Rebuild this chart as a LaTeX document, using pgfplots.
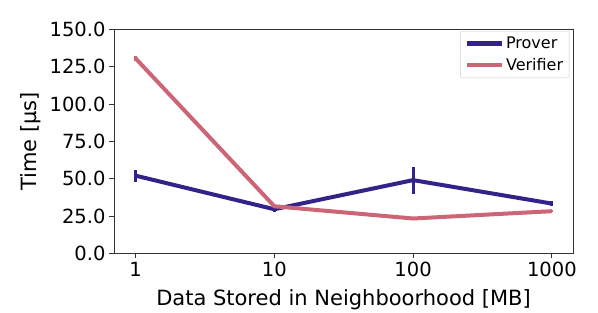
\documentclass[border=0pt]{standalone}
\usepackage{fontspec}
\setmainfont{DejaVu Sans}
\usepackage{pgfplots}
\pgfplotsset{compat=1.18}
\definecolor{prover}{HTML}{332288}
\definecolor{verifier}{HTML}{CC6677}
\begin{document}
\begin{tikzpicture}
\begin{semilogxaxis}[
  scale only axis,
  width=459pt, height=224pt,
  xmin=0.70, xmax=1420,
  ymin=0, ymax=150,
  xtick={1,10,100,1000},
  xticklabels={1,10,100,1000},
  xminorticks=false,
  ytick={0,25,50,75,100,125,150},
  yticklabel style={/pgf/number format/.cd, fixed, fixed zerofill, precision=1},
  /pgf/number format/assume math mode=true,
  tick pos=left,
  tick align=outside,
  major tick length=5pt,
  tick style={line width=0.8pt, black!80},
  axis line style={line width=0.8pt, black!80},
  ticklabel style={font=\fontsize{19.5}{22}\selectfont},
  label style={font=\fontsize{21}{24}\selectfont},
  xlabel={Data Stored in Neighboorhood [MB]},
  ylabel={Time [\textmu s]},
  xlabel style={at={([yshift=-51.7pt]axis description cs:0.5,0)}, anchor=base},
  ylabel style={at={([xshift=-77pt]axis description cs:0,0.5)}, anchor=base},
  legend style={at={(0.992,0.993)}, anchor=north east, font=\fontsize{16}{19}\selectfont,
    draw=black!20, rounded corners=2pt, inner xsep=4pt, inner ysep=4pt, row sep=4pt},
  legend cell align=left,
  legend image code/.code={\draw[#1, line width=4.5pt] (0pt,0pt) -- (35pt,0pt);},
]
\addplot[prover, line width=4pt, no marks,
  error bars/.cd, y dir=both, y explicit, error mark=none,
  error bar style={line width=3pt, prover}]
  coordinates {(1,52) +- (0,4) (10,29.5) +- (0,2) (100,49) +- (0,9) (1000,33.3) +- (0,1.5)};
\addlegendentry{Prover}
\addplot[verifier, line width=4pt, no marks,
  error bars/.cd, y dir=both, y explicit, error mark=none,
  error bar style={line width=3pt, verifier}]
  coordinates {(1,130.6) +- (0,1.5) (10,31.5) +- (0,0.8) (100,23.3) +- (0,0.5) (1000,28.2) +- (0,0.5)};
\addlegendentry{Verifier}
\end{semilogxaxis}
\path[use as bounding box] ([xshift=-114pt,yshift=-55.7pt]current axis.south west) rectangle ([xshift=25pt,yshift=29.3pt]current axis.north east);
\end{tikzpicture}
\end{document}
